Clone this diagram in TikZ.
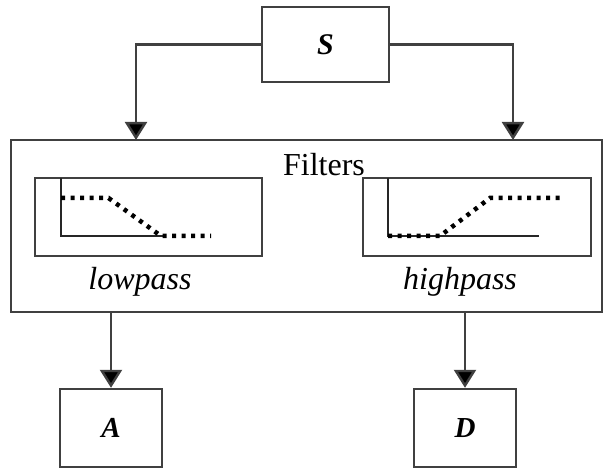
\documentclass[tikz,border=0pt]{standalone}
\usepackage{fontspec}
\setmainfont{Liberation Serif}
\usetikzlibrary{arrows.meta}

\tikzset{
    block/.style={draw=black!75, line width=2.4pt, fill=white, inner sep=0pt},
    arr/.style={draw=black!75, line width=2.4pt, -{Triangle[width=22pt,length=18pt,fill=black]}},
    resp/.style={black, line width=4.5pt, dash pattern=on 4pt off 5.5pt},
    axis/.style={draw=black!85, line width=2pt}
}

\begin{document}
\begin{tikzpicture}[x=1pt,y=1pt]
\useasboundingbox (0,0) rectangle (608,469);
\fontsize{32}{38}\selectfont

% source, filter bank and outputs
\node[block, minimum width=127pt, minimum height=75pt] (S) at (325.5,424.5) {\fontsize{30}{34}\selectfont\textbf{\textit{S}}};
\node[block, minimum width=591pt, minimum height=172pt] (filters) at (306.5,243) {};
\node (title) at (324,304) {Filters};
\node[block, minimum width=227pt, minimum height=78pt] (lowbox) at (148.5,252) {};
\node[block, minimum width=228pt, minimum height=78pt] (highbox) at (477,252) {};
\node (low) at (140,187) {\textit{lowpass}};
\node (high) at (460,187) {\textit{highpass}};
\node[block, minimum width=102pt, minimum height=78pt] (A) at (111,41) {\fontsize{29}{34}\selectfont\textbf{\textit{A}}};
\node[block, minimum width=102pt, minimum height=78pt] (D) at (465,41) {\fontsize{29}{34}\selectfont\textbf{\textit{D}}};

% inputs to the filter bank
\coordinate (inL) at (136,329);
\coordinate (inR) at (513,329);
\draw[arr] (S.west) -| (inL);
\draw[arr] (S.east) -| (inR);

% outputs
\draw[arr] (A.north |- filters.south) -- (A.north);
\draw[arr] (D.north |- filters.south) -- (D.north);

% lowpass response
\draw[axis] (61,291) -- (61,233) -- (163,233);
\draw[resp] (61,271) -- (108.5,271) -- (161,233) -- (211,233);

% highpass response
\draw[axis] (388,291) -- (388,233) -- (539,233);
\draw[resp] (388,233) -- (440,233) -- (490,271) -- (560,271);
\end{tikzpicture}
\end{document}
